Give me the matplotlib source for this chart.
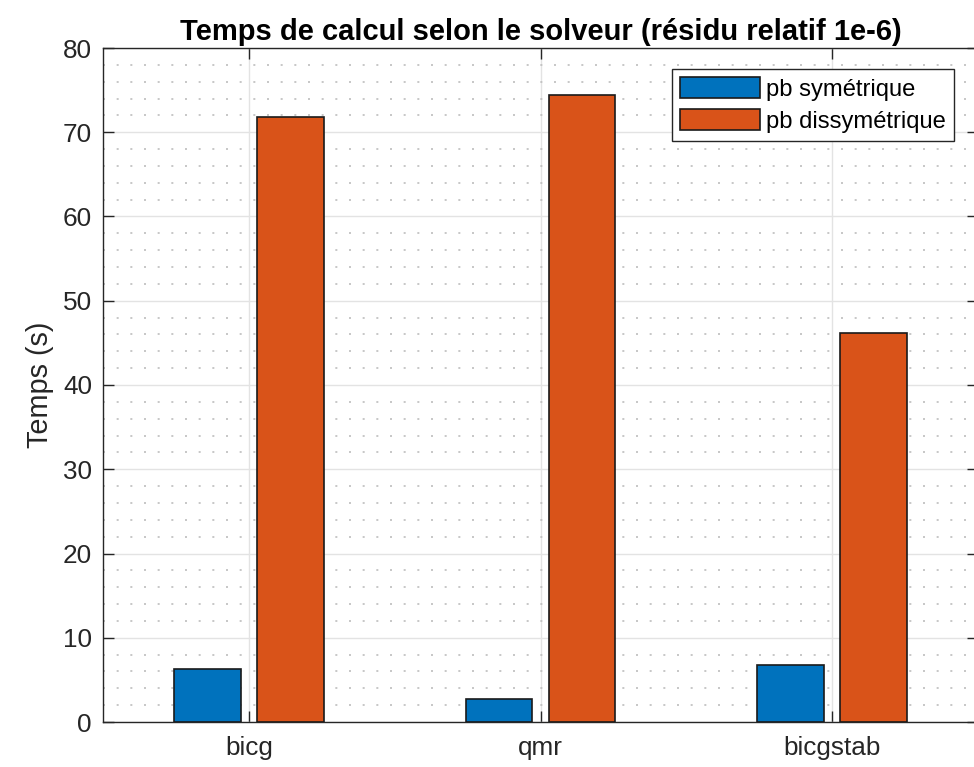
import numpy as np
import matplotlib
matplotlib.use("Agg")
import matplotlib.pyplot as plt
from matplotlib.ticker import MultipleLocator

solveurs = ["bicg", "qmr", "bicgstab"]
temps_sym = [6.25, 2.69, 6.77]
temps_dissym = [71.85, 74.4, 46.2]
noms_series = ["pb symétrique", "pb dissymétrique"]

bleu = "#0072BD"
orange = "#D95319"
gris_axe = "#262626"

plt.rcParams['font.family'] = ['Liberation Sans', 'DejaVu Sans']

fig = plt.figure(figsize=(9.74, 7.67), dpi=100)
ax = fig.add_axes([103 / 974, 1 - 722 / 767, 875 / 974, 674 / 767])

x = np.arange(1, len(solveurs) + 1)
larg = 0.229
dec = 0.142
ax.bar(x - dec, temps_sym, width=larg, color=bleu, edgecolor="#1a1a1a",
       linewidth=1.2, label=noms_series[0], zorder=3)
ax.bar(x + dec, temps_dissym, width=larg, color=orange, edgecolor="#1a1a1a",
       linewidth=1.2, label=noms_series[1], zorder=3)

ax.set_xlim(0.5, 3.5)
ax.set_ylim(0, 80)
ax.set_xticks(x)
ax.set_xticklabels(solveurs)
ax.yaxis.set_major_locator(MultipleLocator(10))
ax.yaxis.set_minor_locator(MultipleLocator(2))

# grille facon matlab : majeure pleine, mineure en pointilles
ax.grid(True, which="major", color="#e3e3e3", linewidth=1.0, zorder=0)
ax.grid(True, which="minor", axis="y", color="#bdbdbd", linestyle=(0, (1.2, 7)),
        linewidth=1.2, zorder=0)
ax.set_axisbelow(True)

ax.tick_params(which="major", direction="in", length=8, width=1.0,
               top=True, right=True, colors=gris_axe, labelsize=18.8)
ax.tick_params(axis="y", pad=8)
ax.tick_params(axis="x", pad=10)
ax.tick_params(which="minor", length=0)
for s in ax.spines.values():
    s.set_color(gris_axe)
    s.set_linewidth(1.0)

ax.set_ylabel("Temps (s)", fontsize=20.8, color=gris_axe, labelpad=6)
ax.set_title("Temps de calcul selon le solveur (résidu relatif 1e-6)",
             fontsize=21, fontweight="bold", pad=6)

leg = ax.legend(loc="upper right", fontsize=17.1, fancybox=False,
                framealpha=1, edgecolor="#262626", handlelength=3.36, handleheight=0.97,
                handletextpad=0.25, borderpad=0.35, labelspacing=0.35, borderaxespad=0)
leg.set_bbox_to_anchor((954 / 974, 1 - 69 / 767), transform=fig.transFigure)
leg.get_frame().set_linewidth(1.0)

fig.savefig("out.png", dpi=100)
